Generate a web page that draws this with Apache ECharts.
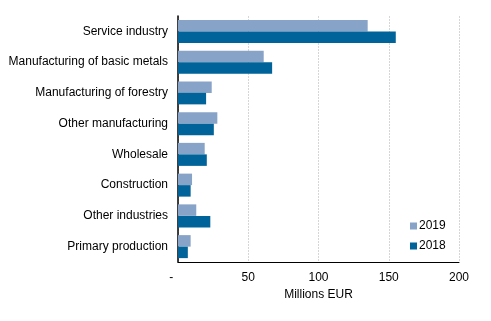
<!DOCTYPE html>
<html>
<head>
<meta charset="utf-8">
<script src="https://cdn.jsdelivr.net/npm/echarts@6/dist/echarts.min.js"></script>
<style>
  html, body { margin: 0; padding: 0; background: #fff; }
  #chart { width: 491px; height: 321px; }
</style>
</head>
<body>
<div id="chart"></div>
<script>
// Industries, top to bottom
const categories = [
  'Service industry',
  'Manufacturing of basic metals',
  'Manufacturing of forestry',
  'Other manufacturing',
  'Wholesale',
  'Construction',
  'Other industries',
  'Primary production'
];
// Millions EUR
const values2019 = [135, 61, 24, 28, 19, 10, 13, 9];
const values2018 = [155, 67, 20, 25.5, 20.5, 9, 23, 7];
const seriesNames = ['2019', '2018'];
const xTicks = { min: 0, max: 200, interval: 50 };

const font = 'Liberation Sans, Arial, sans-serif';
const chart = echarts.init(document.getElementById('chart'), null, { renderer: 'canvas' });

chart.setOption({
  animation: false,
  textStyle: { fontFamily: font },
  grid: { left: 178, right: 32, top: 16, bottom: 59, containLabel: false },
  legend: {
    data: seriesNames,
    orient: 'vertical',
    left: 405,
    top: 215,
    itemWidth: 7,
    itemHeight: 7,
    itemGap: 8,
    icon: 'rect',
    textStyle: { fontSize: 12, color: '#000', fontFamily: font, padding: [0, 0, 0, -3] }
  },
  xAxis: {
    type: 'value',
    min: xTicks.min,
    max: xTicks.max,
    interval: xTicks.interval,
    name: 'Millions EUR',
    nameLocation: 'middle',
    nameGap: 27,
    nameTextStyle: { fontSize: 12, color: '#000', fontFamily: font },
    axisLine: { show: true, lineStyle: { color: '#000', width: 1 } },
    axisTick: { show: false },
    axisLabel: {
      fontSize: 12, color: '#000', fontFamily: font, margin: 10,
      // zero is shown as a dash, set a little to the left of the axis
      formatter: v => (v === 0 ? '-    ' : String(v))
    },
    splitLine: { show: true, lineStyle: { color: '#d6d6d6', type: [2, 1], width: 1 } }
  },
  yAxis: {
    type: 'category',
    data: categories,
    inverse: true,
    axisLine: { show: true, lineStyle: { color: '#000', width: 1.5 } },
    axisTick: { show: false },
    axisLabel: { fontSize: 12, color: '#000', fontFamily: font, margin: 10 },
    splitLine: { show: false }
  },
  series: [
    {
      name: seriesNames[0],
      type: 'bar',
      data: values2019,
      itemStyle: { color: '#87a3c7' },
      barWidth: 11.5,
      barGap: '0%',
      barCategoryGap: '25%'
    },
    {
      name: seriesNames[1],
      type: 'bar',
      data: values2018,
      itemStyle: { color: '#006399' },
      barWidth: 11.5,
      barGap: '0%',
      barCategoryGap: '25%'
    }
  ]
});
</script>
</body>
</html>
